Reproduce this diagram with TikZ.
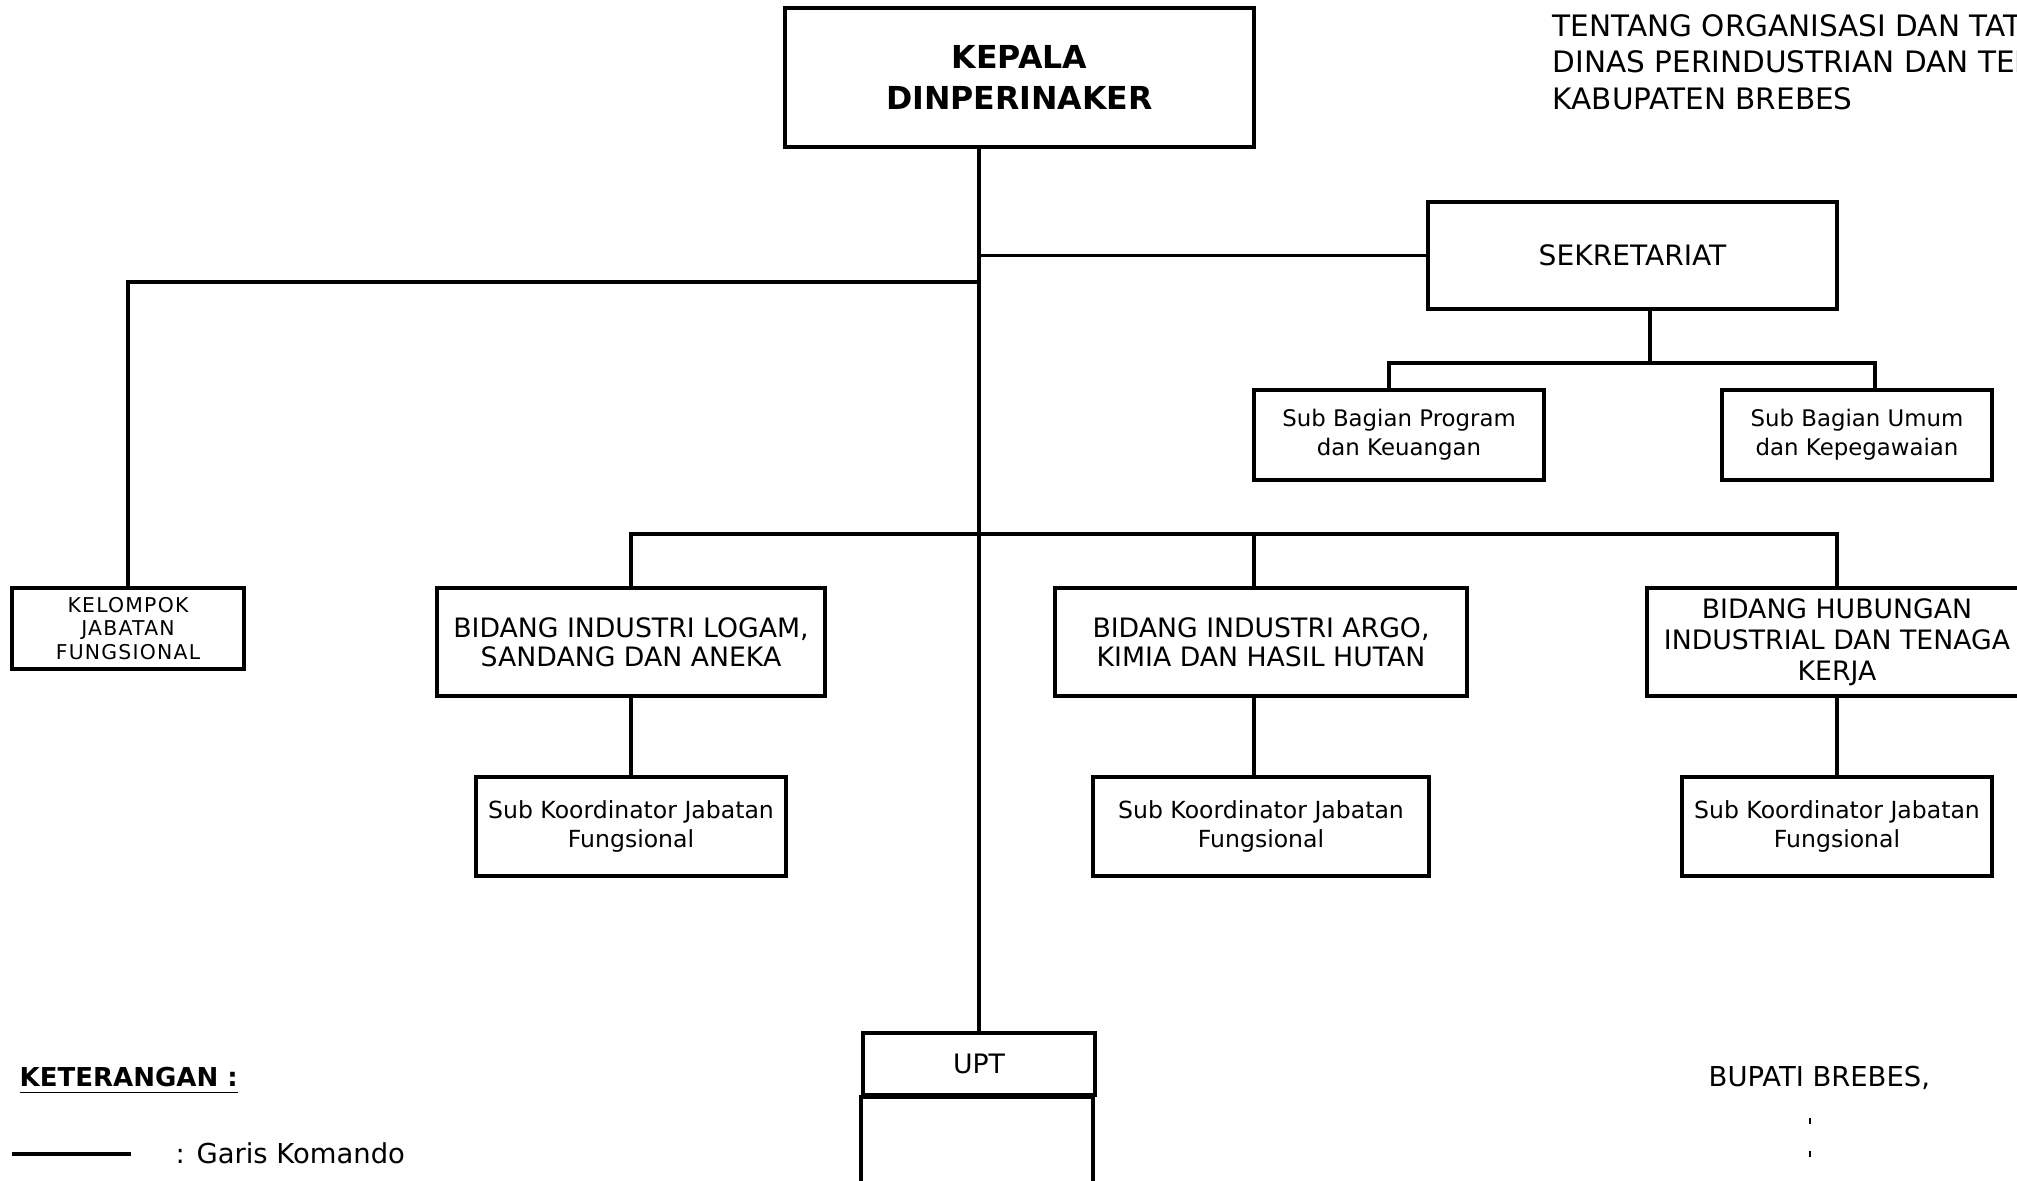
\documentclass[tikz,border=0pt]{standalone}
\usepackage{fontspec}
\setmainfont{DejaVu Sans}
\newfontfamily\kjffont[LetterSpace=6]{DejaVu Sans}
\usetikzlibrary{positioning}
\tikzset{
  orgbox/.style={draw, line width=1.1pt, inner sep=0pt, align=center},
  link/.style={line width=1.1pt},
  plain/.style={inner sep=0pt},
}

\begin{document}
\begin{tikzpicture}
  \useasboundingbox (0,0) rectangle (20.17,11.81);

  % Lampiran
  \node[plain, anchor=base west, font=\fontsize{8.4}{10}\selectfont] (lamp1) at (15.52,11.44) {TENTANG ORGANISASI DAN TATA};
  \node[plain, anchor=base west, font=\fontsize{8.4}{10}\selectfont] (lamp2) at (15.52,11.08) {DINAS PERINDUSTRIAN DAN TENAGA};
  \node[plain, anchor=base west, font=\fontsize{8.4}{10}\selectfont] (lamp3) at (15.52,10.71) {KABUPATEN BREBES};

  % Kepala
  \node[orgbox, minimum width=4.69cm, minimum height=1.39cm, font=\bfseries\fontsize{9}{11.4}\selectfont] (kepala) at (10.195,11.035) {KEPALA\\DINPERINAKER};

  % Sekretariat
  \node[orgbox, minimum width=4.09cm, minimum height=1.07cm, font=\fontsize{8}{9.6}\selectfont] (sekre) at (16.325,9.255) {SEKRETARIAT};
  \node[orgbox, minimum width=2.90cm, minimum height=0.90cm, font=\fontsize{6.5}{8.3}\selectfont] (sbp) at (13.99,7.46) {Sub Bagian Program\\dan Keuangan};
  \node[orgbox, minimum width=2.70cm, minimum height=0.90cm, font=\fontsize{6.5}{8.3}\selectfont] (sbu) at (18.57,7.46) {Sub Bagian Umum\\dan Kepegawaian};

  % Kelompok jabatan fungsional
  \node[orgbox, minimum width=2.32cm, minimum height=0.81cm, font=\kjffont\fontsize{5.8}{6.8}\selectfont] (kjf) at (1.28,5.525) {KELOMPOK\\JABATAN\\FUNGSIONAL};

  % Bidang
  \node[orgbox, minimum width=3.88cm, minimum height=1.08cm, font=\fontsize{7.6}{8.3}\selectfont] (bil) at (6.31,5.39) {BIDANG INDUSTRI LOGAM,\\SANDANG DAN ANEKA};
  \node[orgbox, minimum width=4.12cm, minimum height=1.08cm, font=\fontsize{7.6}{8.3}\selectfont] (bia) at (12.61,5.39) {BIDANG INDUSTRI ARGO,\\KIMIA DAN HASIL HUTAN};
  \node[orgbox, minimum width=3.80cm, minimum height=1.08cm, font=\fontsize{7.6}{8.8}\selectfont] (bih) at (18.37,5.39) {BIDANG HUBUNGAN\\INDUSTRIAL DAN TENAGA\\KERJA};

  % Sub koordinator
  \node[orgbox, minimum width=3.10cm, minimum height=0.99cm, font=\fontsize{6.7}{8.3}\selectfont] (skl) at (6.31,3.545) {Sub Koordinator Jabatan\\Fungsional};
  \node[orgbox, minimum width=3.36cm, minimum height=0.99cm, font=\fontsize{6.7}{8.3}\selectfont] (ska) at (12.61,3.545) {Sub Koordinator Jabatan\\Fungsional};
  \node[orgbox, minimum width=3.10cm, minimum height=0.99cm, font=\fontsize{6.7}{8.3}\selectfont] (skh) at (18.37,3.545) {Sub Koordinator Jabatan\\Fungsional};

  % UPT
  \node[orgbox, minimum width=2.32cm, minimum height=0.62cm, font=\fontsize{7.6}{9}\selectfont] (upt) at (9.79,1.17) {UPT};
  \draw[link] (upt.south west) rectangle ++(2.32,-1.5);

  % Garis komando
  \coordinate (kjfline) at (0,8.99);
  \coordinate (sekrejoin) at (16.50,8.18);
  \coordinate (bidjoin) at (9.79,6.47);
  \draw[link] (kepala.south -| upt.north) -- (upt.north);
  \draw[link] (sekre.west) -- (sekre.west -| upt.north);
  \draw[link] (kjf.north) |- (kjfline -| upt.north);
  \draw[link] (sekre.south -| sekrejoin) -- (sekrejoin);
  \draw[link] ([xshift=-1mm]sbp.north) |- (sekrejoin) -| ([xshift=1.8mm]sbu.north);
  \draw[link] (bil.north) |- (bidjoin) -| (bih.north);
  \draw[link] ([xshift=-0.7mm]bia.north) -- ([xshift=-0.7mm]bia.north |- bidjoin);
  \draw[link] (bil.south) -- (skl.north);
  \draw[link] ([xshift=-0.7mm]bia.south) -- ([xshift=-0.7mm]bia.south |- ska.north);
  \draw[link] (bih.south) -- (skh.north);

  % Keterangan
  \node[plain, anchor=base west, font=\bfseries\fontsize{7.4}{9}\selectfont] (ket) at (0.19,0.94) {\underline{KETERANGAN :}};
  \coordinate (lgA) at (0.12,0.27);
  \coordinate (lgB) at (1.31,0.27);
  \draw[line width=1.4pt] (lgA) -- (lgB);
  \node[plain, anchor=west, font=\fontsize{7.8}{9}\selectfont] (lgtext) at (1.75,0.28) {: Garis Komando};

  % Pengesahan
  \node[plain, anchor=base west, font=\fontsize{7.8}{9}\selectfont] (bupati) at (17.08,0.94) {BUPATI BREBES,};
  \draw[line width=0.5pt] (18.10,0.57) -- (18.10,0.63);
  \draw[line width=0.5pt] (18.10,0.24) -- (18.10,0.30);
\end{tikzpicture}
\end{document}
